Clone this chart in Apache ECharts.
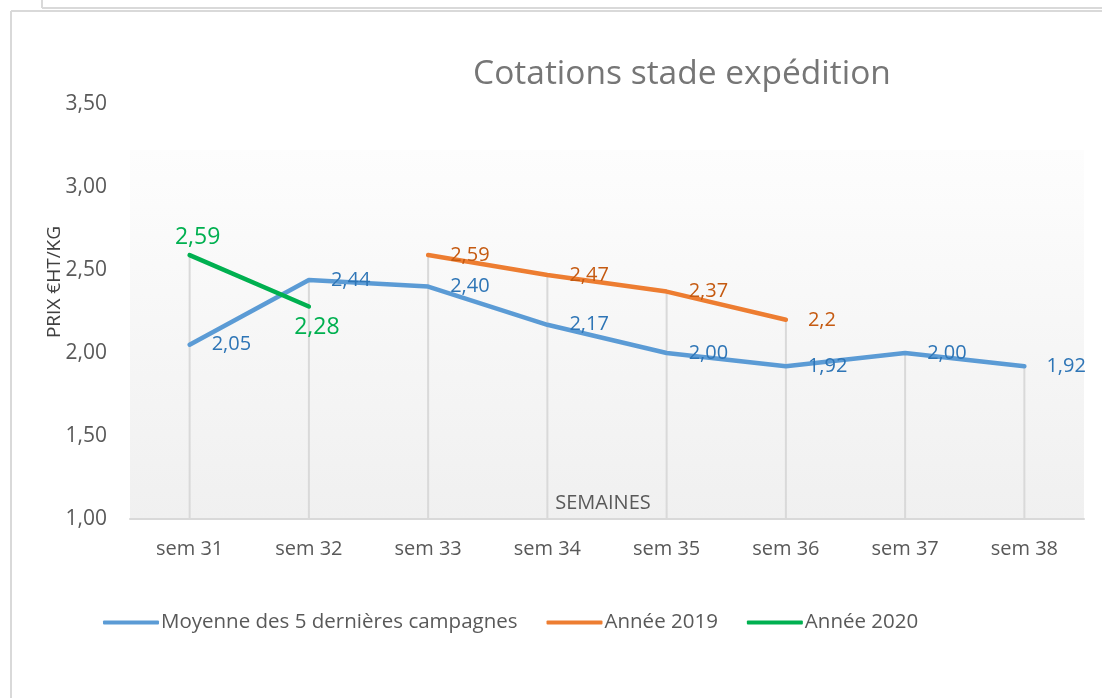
<!DOCTYPE html>
<html>
<head>
<meta charset="utf-8">
<script src="https://cdn.jsdelivr.net/npm/echarts@6/dist/echarts.min.js"></script>
<style>
    html, body { margin: 0; padding: 0; background: #fff; }
    #chart { width: 1102px; height: 698px; }
</style>
</head>
<body>
<div id="chart"></div>
<script>
var semaines = ['sem 31', 'sem 32', 'sem 33', 'sem 34', 'sem 35', 'sem 36', 'sem 37', 'sem 38'];
var moyenne = [2.05, 2.44, 2.40, 2.17, 2.00, 1.92, 2.00, 1.92];
var annee2019 = [null, null, 2.59, 2.47, 2.37, 2.2, null, null];
var annee2020 = [2.59, 2.28, null, null, null, null, null, null];
var yTicks = [1.00, 1.50, 2.00, 2.50, 3.00, 3.50];

var FONT = 'Open Sans';

// hauteur max par semaine pour les traits verticaux
var dropData = semaines.map(function (s, i) {
    var vals = [moyenne[i], annee2019[i], annee2020[i]].filter(function (v) { return v != null; });
    return [i, Math.max.apply(null, vals)];
});

function virgule(v) {
    return String(v).replace('.', ',');
}

var chart = echarts.init(document.getElementById('chart'), null, {renderer: 'canvas'});
chart.setOption({
    backgroundColor: '#ffffff',
    animation: false,
    title: {
        text: 'Cotations stade expédition',
        left: 677,
        textAlign: 'center',
        top: 52,
        textStyle: {fontFamily: FONT, fontSize: 33.5, fontWeight: 'normal', color: '#767676'}
    },
    legend: {
        left: 98,
        top: 607,
        itemWidth: 56,
        itemHeight: 4,
        itemGap: 29,
        icon: 'roundRect',
        textStyle: {fontFamily: FONT, fontSize: 20.5, color: '#595959', padding: [0, 0, 0, -3]},
        data: ['Moyenne des 5 dernières campagnes', 'Année 2019', 'Année 2020']
    },
    grid: {
        left: 130,
        right: 18,
        top: 104,
        bottom: 179,
        show: true,
        borderWidth: 0,
        backgroundColor: {
            type: 'linear', x: 0, y: 0, x2: 0, y2: 1,
            colorStops: [
                {offset: 0, color: '#ffffff'},
                {offset: 0.11, color: '#ffffff'},
                {offset: 0.111, color: '#fdfdfd'},
                {offset: 1, color: '#f0f0f0'}
            ]
        }
    },
    xAxis: {
        type: 'category',
        data: semaines,
        boundaryGap: true,
        name: 'SEMAINES',
        nameLocation: 'middle',
        nameGap: -26,
        nameTextStyle: {fontFamily: FONT, fontSize: 20, color: '#595959', padding: [0, 8, 0, 0]},
        axisLine: {lineStyle: {color: '#d9d9d9', width: 2}},
        axisTick: {show: false},
        axisLabel: {fontFamily: FONT, fontSize: 20, color: '#595959', margin: 20},
        splitLine: {show: false}
    },
    yAxis: {
        type: 'value',
        min: yTicks[0],
        max: yTicks[yTicks.length - 1],
        interval: 0.5,
        axisLine: {show: false},
        axisTick: {show: false},
        splitLine: {show: false},
        axisLabel: {
            fontFamily: FONT, fontSize: 21, color: '#595959', margin: 23,
            formatter: function (v) { return v.toFixed(2).replace('.', ','); }
        }
    },
    graphic: [
        {type: 'line', shape: {x1: 42, y1: 0, x2: 42, y2: 8}, style: {stroke: '#d9d9d9', lineWidth: 2}},
        {type: 'line', shape: {x1: 42, y1: 8, x2: 1102, y2: 8}, style: {stroke: '#d9d9d9', lineWidth: 2}},
        {type: 'line', shape: {x1: 11, y1: 11, x2: 1102, y2: 11}, style: {stroke: '#d9d9d9', lineWidth: 2}},
        {type: 'line', shape: {x1: 11, y1: 11, x2: 11, y2: 698}, style: {stroke: '#d9d9d9', lineWidth: 2}},
        {
            type: 'text', x: 55, y: 282, rotation: Math.PI / 2,
            style: {text: 'PRIX €HT/KG', fontFamily: FONT, fontSize: 19, fill: '#404040', align: 'center', verticalAlign: 'middle'}
        }
    ],
    series: [
        {
            type: 'custom',
            silent: true,
            z: 1,
            data: dropData,
            renderItem: function (params, api) {
                var top = api.coord([api.value(0), api.value(1)]);
                var bas = api.coord([api.value(0), yTicks[0]]);
                return {
                    type: 'line',
                    shape: {x1: top[0], y1: top[1], x2: bas[0], y2: bas[1]},
                    style: {stroke: '#d9d9d9', lineWidth: 2}
                };
            }
        },
        {
            name: 'Moyenne des 5 dernières campagnes',
            type: 'line',
            z: 3,
            data: moyenne,
            symbol: 'circle',
            symbolSize: 0.1,
            color: '#5b9bd5',
            lineStyle: {width: 4.5, cap: 'round', join: 'round'},
            label: {
                show: true, position: 'right', distance: 22,
                fontFamily: FONT, fontSize: 20, color: '#2e75b6',
                formatter: function (p) { return p.value.toFixed(2).replace('.', ','); }
            }
        },
        {
            name: 'Année 2019',
            type: 'line',
            z: 3,
            data: annee2019,
            symbol: 'circle',
            symbolSize: 0.1,
            color: '#ed7d31',
            lineStyle: {width: 4.5, cap: 'round', join: 'round'},
            label: {
                show: true, position: 'right', distance: 22,
                fontFamily: FONT, fontSize: 20, color: '#c55a11',
                formatter: function (p) { return virgule(p.value); }
            }
        },
        {
            name: 'Année 2020',
            type: 'line',
            z: 3,
            data: [
                {value: annee2020[0], label: {position: 'top', distance: 6}},
                {value: annee2020[1], label: {position: 'bottom', distance: 9}},
                null, null, null, null, null, null
            ],
            symbol: 'circle',
            symbolSize: 0.1,
            color: '#00b050',
            lineStyle: {width: 4.5, cap: 'round', join: 'round'},
            label: {
                show: true, offset: [8, 0],
                fontFamily: FONT, fontSize: 23, color: '#00b050',
                formatter: function (p) { return virgule(p.value); }
            }
        }
    ]
});
</script>
</body>
</html>
